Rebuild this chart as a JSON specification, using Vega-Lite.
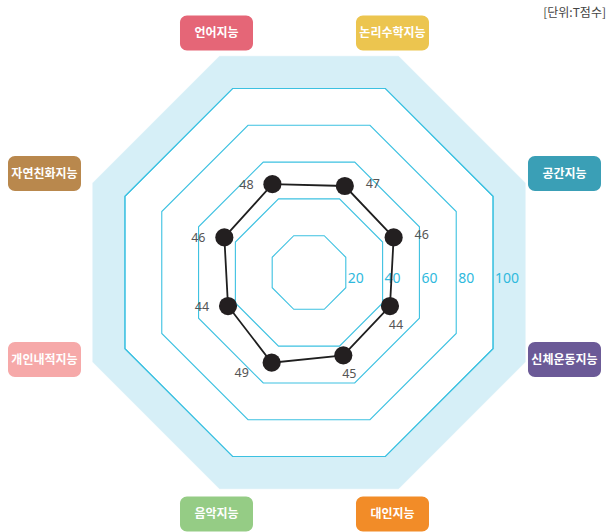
{
  "$schema": "https://vega.github.io/schema/vega-lite/v6.json",
  "width": 606,
  "height": 532,
  "padding": 0,
  "autosize": {"type": "none"},
  "background": "white",
  "config": {"view": {"stroke": null}},
  "title": {
    "text": "[단위:T점수]",
    "anchor": "end",
    "frame": "group",
    "orient": "top",
    "baseline": "top",
    "offset": 0,
    "dy": 20,
    "dx": 0,
    "fontSize": 12,
    "fontWeight": "normal",
    "color": "#444444",
    "font": "Noto Sans CJK KR"
  },
  "datasets": {
    "scores": [
      {"category": "언어지능", "value": 48},
      {"category": "논리수학지능", "value": 47},
      {"category": "공간지능", "value": 46},
      {"category": "신체운동지능", "value": 44},
      {"category": "대인지능", "value": 45},
      {"category": "음악지능", "value": 49},
      {"category": "개인내적지능", "value": 44},
      {"category": "자연친화지능", "value": 46}
    ]
  },
  "data": {"name": "scores"},
  "transform": [
    {"window": [{"op": "row_number", "as": "idx"}]},
    {"calculate": "((datum.idx - 1) * 45 - 22.5) * PI / 180", "as": "theta"},
    {"calculate": "sin(datum.theta)", "as": "s"},
    {"calculate": "cos(datum.theta)", "as": "c"}
  ],
  "layer": [
    {
      "transform": [
        {"calculate": "117.5 * datum.s", "as": "px"},
        {"calculate": "117.5 * datum.c", "as": "py"}
      ],
      "mark": {"type": "line", "interpolate": "linear-closed", "fill": "#d6eff7", "stroke": "#d6eff7", "strokeWidth": 0.5},
      "encoding": {
        "x": {"field": "px", "type": "quantitative", "scale": {"domain": [-155.12, 149.10], "nice": false, "zero": false}, "axis": null},
        "y": {"field": "py", "type": "quantitative", "scale": {"domain": [-130.27, 136.80], "nice": false, "zero": false}, "axis": null},
        "order": {"field": "idx", "type": "quantitative"}
      }
    },
    {
      "transform": [
        {"calculate": "100 * datum.s", "as": "px"},
        {"calculate": "100 * datum.c", "as": "py"}
      ],
      "mark": {"type": "line", "interpolate": "linear-closed", "fill": "white", "stroke": "#3cc1e1", "strokeWidth": 1.1},
      "encoding": {
        "x": {"field": "px", "type": "quantitative"},
        "y": {"field": "py", "type": "quantitative"},
        "order": {"field": "idx", "type": "quantitative"}
      }
    },
    {
      "transform": [
        {"calculate": "[20, 40, 60, 80, 100]", "as": "ring"},
        {"flatten": ["ring"]},
        {"calculate": "datum.ring * datum.s", "as": "px"},
        {"calculate": "datum.ring * datum.c", "as": "py"}
      ],
      "mark": {"type": "line", "interpolate": "linear-closed", "stroke": "#3cc1e1", "strokeWidth": 1.1},
      "encoding": {
        "x": {"field": "px", "type": "quantitative"},
        "y": {"field": "py", "type": "quantitative"},
        "detail": {"field": "ring", "type": "nominal"},
        "order": {"field": "idx", "type": "quantitative"}
      }
    },
    {
      "transform": [
        {"filter": "datum.idx == 1"},
        {"calculate": "[20, 40, 60, 80, 100]", "as": "ring"},
        {"flatten": ["ring"]},
        {"calculate": "datum.ring * cos(PI / 8)", "as": "px"},
        {"calculate": "0", "as": "py"}
      ],
      "mark": {"type": "text", "align": "left", "baseline": "middle", "dx": 2, "dy": 6.5, "fontSize": 14, "font": "Noto Sans", "color": "#2fb9dd"},
      "encoding": {
        "x": {"field": "px", "type": "quantitative"},
        "y": {"field": "py", "type": "quantitative"},
        "text": {"field": "ring", "type": "quantitative"}
      }
    },
    {
      "transform": [
        {"calculate": "datum.value * datum.s", "as": "px"},
        {"calculate": "datum.value * datum.c", "as": "py"}
      ],
      "mark": {"type": "line", "interpolate": "linear-closed", "stroke": "#1f1f1f", "strokeWidth": 1.8},
      "encoding": {
        "x": {"field": "px", "type": "quantitative"},
        "y": {"field": "py", "type": "quantitative"},
        "order": {"field": "idx", "type": "quantitative"}
      }
    },
    {
      "transform": [
        {"calculate": "datum.value * datum.s", "as": "px"},
        {"calculate": "datum.value * datum.c", "as": "py"}
      ],
      "mark": {"type": "point", "shape": "circle", "filled": true, "size": 330, "opacity": 1, "color": "#231f20"},
      "encoding": {
        "x": {"field": "px", "type": "quantitative"},
        "y": {"field": "py", "type": "quantitative"}
      }
    },
    {
      "transform": [
        {"calculate": "datum.s > 0 ? (datum.c > 0 ? 28 : 6) : (datum.c < -0.5 ? -30 : -26)", "as": "ox"},
        {"calculate": "datum.s > 0 ? (datum.c > 0 ? -2 : 19) : (datum.c < -0.5 ? 10 : 1)", "as": "oy"},
        {"calculate": "datum.value * datum.s + datum.ox / 1.992", "as": "px"},
        {"calculate": "datum.value * datum.c - datum.oy / 1.992", "as": "py"}
      ],
      "mark": {"type": "text", "align": "center", "baseline": "middle", "fontSize": 12.5, "font": "Noto Sans", "color": "#555555"},
      "encoding": {
        "x": {"field": "px", "type": "quantitative"},
        "y": {"field": "py", "type": "quantitative"},
        "text": {"field": "value", "type": "quantitative"}
      }
    },
    {
      "transform": [
        {"calculate": "((datum.s > 0 ? 1 : -1) * (abs(datum.s) > 0.7 ? 260 : 88) - 4.5) / 1.992", "as": "lx"},
        {"calculate": "((datum.c > 0 ? 1 : -1) * (abs(datum.c) > 0.7 ? 240.5 : 93) - (abs(datum.c) > 0.7 ? 1 : -6)) / 1.992", "as": "ly"},
        {"calculate": "datum.lx - 36.5 / 1.992", "as": "bx"},
        {"calculate": "datum.lx + 36.5 / 1.992", "as": "bx2"},
        {"calculate": "datum.ly - 17.5 / 1.992", "as": "by"},
        {"calculate": "datum.ly + 17.5 / 1.992", "as": "by2"}
      ],
      "layer": [
        {
          "mark": {"type": "rect", "cornerRadius": 7, "opacity": 1},
          "encoding": {
            "x": {"field": "bx", "type": "quantitative"},
            "x2": {"field": "bx2"},
            "y": {"field": "by", "type": "quantitative"},
            "y2": {"field": "by2"},
            "color": {
              "field": "category",
              "type": "nominal",
              "scale": {
                "domain": ["언어지능", "논리수학지능", "공간지능", "신체운동지능", "대인지능", "음악지능", "개인내적지능", "자연친화지능"],
                "range": ["#e56677", "#ecc54f", "#3a9fb6", "#6b5a97", "#f28c28", "#95cc85", "#f6a9a9", "#b9884d"]
              },
              "legend": null
            }
          }
        },
        {
          "mark": {"type": "text", "align": "center", "baseline": "middle", "fontSize": 12, "fontWeight": "bold", "font": "Noto Sans CJK KR", "color": "white"},
          "encoding": {
            "x": {"field": "lx", "type": "quantitative"},
            "y": {"field": "ly", "type": "quantitative"},
            "text": {"field": "category", "type": "nominal"}
          }
        }
      ]
    }
  ]
}
